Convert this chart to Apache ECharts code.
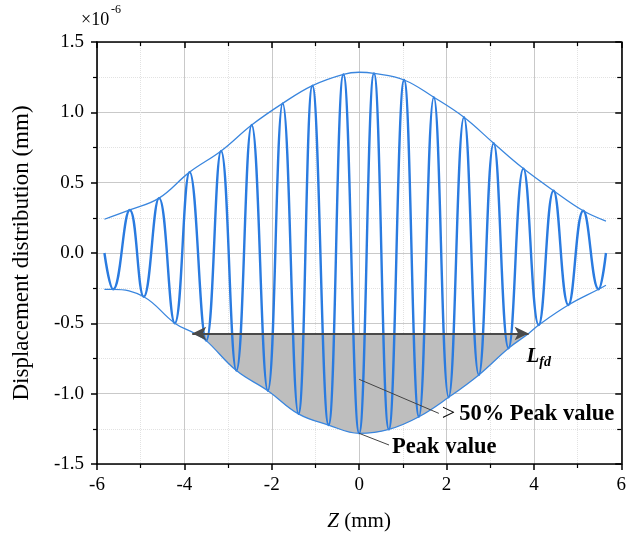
<!DOCTYPE html>
<html>
<head>
<meta charset="utf-8">
<script src="https://cdn.jsdelivr.net/npm/echarts@6/dist/echarts.min.js"></script>
<style>html,body{margin:0;padding:0;background:#fff}#c{width:629px;height:538px}</style>
</head>
<body>
<div id="c"></div>
<script>
// ---- data (Z in mm, displacement in 1e-6 mm) ----
const waveZ = [-5.83, -5.63, -5.25, -4.93, -4.58, -4.22, -3.88, -3.50, -3.16, -2.81, -2.46, -2.09, -1.75, -1.39, -1.07, -0.70, -0.36, 0.00, 0.34, 0.68, 1.03, 1.37, 1.71, 2.05, 2.40, 2.74, 3.08, 3.42, 3.76, 4.11, 4.45, 4.79, 5.13, 5.48, 5.65];
const waveD = [0.00, -0.258, 0.306, -0.311, 0.390, -0.499, 0.575, -0.623, 0.725, -0.836, 0.910, -0.979, 1.064, -1.144, 1.190, -1.223, 1.270, -1.282, 1.277, -1.254, 1.230, -1.164, 1.107, -1.026, 0.965, -0.867, 0.780, -0.677, 0.600, -0.512, 0.443, -0.370, 0.300, -0.258, 0.00];
const upperZ = [-5.83, -5.25, -4.58, -3.88, -3.16, -2.46, -1.75, -1.07, -0.36, 0.00, 0.34, 1.03, 1.71, 2.40, 3.08, 3.76, 4.45, 5.13, 5.65];
const upperD = [0.240, 0.306, 0.390, 0.575, 0.725, 0.910, 1.064, 1.190, 1.270, 1.285, 1.277, 1.230, 1.107, 0.965, 0.780, 0.600, 0.443, 0.300, 0.227];
const lowerZ = [-5.83, -5.63, -4.93, -4.22, -3.76, -3.50, -2.81, -2.09, -1.39, -0.70, 0.00, 0.68, 1.37, 2.05, 2.74, 3.42, 3.88, 4.11, 4.79, 5.48, 5.65];
const lowerD = [-0.258, -0.258, -0.311, -0.499, -0.572, -0.623, -0.836, -0.979, -1.144, -1.223, -1.282, -1.254, -1.164, -1.026, -0.867, -0.677, -0.572, -0.512, -0.370, -0.258, -0.229];
const halfPeakLevel = -0.572;         // level of the L_fd arrow
const lfdStartZ = -3.82, lfdEndZ = 3.88;
const xTicks = [-6, -4, -2, 0, 2, 4, 6];
const yTicks = [-1.5, -1.0, -0.5, 0.0, 0.5, 1.0, 1.5];

const zip = (a, b) => a.map((v, i) => [v, b[i]]);
const fillPts = zip(lowerZ, lowerD).filter(p => p[0] >= -3.76 && p[0] <= 3.88);

const FONT = "'Liberation Serif','Times New Roman',serif";
const BLUE = '#2a7be0';

const chart = echarts.init(document.getElementById('c'), null, {renderer: 'canvas'});

function xAxisBase(pos) {
  return {
    type: 'value', min: -6, max: 6, interval: 2, position: pos,
    axisLine: {show: true, onZero: false, lineStyle: {color: '#000', width: 1.6}},
    axisTick: {show: true, inside: pos === 'top', length: 6, lineStyle: {color: '#000', width: 1.5}},
    minorTick: {show: true, splitNumber: 2, length: 4, lineStyle: {color: '#000', width: 1.2}},
    splitLine: {show: pos === 'bottom', lineStyle: {color: '#c9c9c9', width: 1}},
    minorSplitLine: {show: pos === 'bottom', lineStyle: {color: '#e2e2e2', width: 1, type: 'dotted'}},
    axisLabel: {show: pos === 'bottom', color: '#000', fontFamily: FONT, fontSize: 19, margin: 12,
      formatter: v => xTicks.includes(v) ? String(v) : ''}
  };
}
function yAxisBase(pos) {
  return {
    type: 'value', min: -1.5, max: 1.5, interval: 0.5, position: pos,
    axisLine: {show: true, onZero: false, lineStyle: {color: '#000', width: 1.6}},
    axisTick: {show: true, inside: pos === 'right', length: 6, lineStyle: {color: '#000', width: 1.5}},
    minorTick: {show: true, splitNumber: 2, length: 4, lineStyle: {color: '#000', width: 1.2}},
    splitLine: {show: pos === 'left', lineStyle: {color: '#c9c9c9', width: 1}},
    minorSplitLine: {show: pos === 'left', lineStyle: {color: '#e2e2e2', width: 1, type: 'dotted'}},
    axisLabel: {show: pos === 'left', color: '#000', fontFamily: FONT, fontSize: 19, margin: 13,
      formatter: v => yTicks.some(t => Math.abs(t - v) < 1e-9) ? v.toFixed(1) : ''}
  };
}

const xb = xAxisBase('bottom');
xb.name = '{i|Z} (mm)';
xb.nameLocation = 'middle';
xb.nameGap = 47;
xb.nameTextStyle = {color: '#000', fontFamily: FONT, fontSize: 21,
  rich: {i: {fontStyle: 'italic', fontFamily: FONT, fontSize: 21, color: '#000'}}};
const yl = yAxisBase('left');
yl.name = 'Displacement distribution (mm)';
yl.nameLocation = 'middle';
yl.nameGap = 64;
yl.nameTextStyle = {color: '#000', fontFamily: FONT, fontSize: 23};

chart.setOption({
  animation: false,
  backgroundColor: '#fff',
  grid: {left: 97, right: 6, top: 42, bottom: 74, containLabel: false},
  xAxis: [xb, xAxisBase('top')],
  yAxis: [yl, yAxisBase('right')],
  series: [
    {
      name: 'fill', type: 'line', data: fillPts, smooth: 0.4, symbol: 'none',
      lineStyle: {width: 0}, areaStyle: {color: '#bebebe', opacity: 1, origin: halfPeakLevel}, z: 1
    },
    {
      name: 'wave', type: 'line', data: zip(waveZ, waveD), smooth: 0.45, symbol: 'none',
      lineStyle: {color: BLUE, width: 2.4}, z: 3
    },
    {
      name: 'upper', type: 'line', data: zip(upperZ, upperD), smooth: 0.4, symbol: 'none',
      lineStyle: {color: '#3a86de', width: 1.3}, z: 4
    },
    {
      name: 'lower', type: 'line', data: zip(lowerZ, lowerD), smooth: 0.4, symbol: 'none',
      lineStyle: {color: '#3a86de', width: 1.3}, z: 4,
      markLine: {
        silent: true, animation: false, z: 5,
        label: {show: false},
        data: [
          [{coord: [lfdStartZ, halfPeakLevel], symbol: 'arrow', symbolSize: [10, 14], lineStyle: {color: '#4a4a4a', width: 2.2, type: 'solid'}},
           {coord: [lfdEndZ, halfPeakLevel], symbol: 'arrow', symbolSize: [10, 14]}],
          [{coord: [0.0, -0.898], symbol: 'none', lineStyle: {color: '#444', width: 1, type: 'solid'}},
           {coord: [1.825, -1.14], symbol: 'none'}],
          [{coord: [0.0, -1.282], symbol: 'none', lineStyle: {color: '#444', width: 1, type: 'solid'}},
           {coord: [0.684, -1.365], symbol: 'none'}]
        ]
      }
    }
  ]
});

// annotation texts anchored in data coordinates
const notes = [
  {at: [1.89, -1.138], text: '{g|>}{b|50% Peak value}'},
  {at: [0.753, -1.379], text: '{b|Peak value}'},
  {at: [3.83, -0.74], text: '{L|L}{s|fd}'}
];
const rich = {
  g: {fontFamily: FONT, fontSize: 24, color: '#4d4d4d', padding: [0, 4, 0, 0]},
  b: {fontFamily: FONT, fontSize: 22.5, fontWeight: 'bold', color: '#4d4d4d'},
  L: {fontFamily: FONT, fontSize: 21, fontWeight: 'bold', fontStyle: 'italic', color: '#4d4d4d'},
  s: {fontFamily: FONT, fontSize: 14, fontWeight: 'bold', fontStyle: 'italic', color: '#4d4d4d', padding: [12, 0, 0, 0]}
};
const graphics = notes.map(n => {
  const p = chart.convertToPixel({gridIndex: 0}, n.at);
  return {type: 'text', left: p[0], top: p[1] - 11, z: 10,
    style: {text: n.text, rich: rich, textVerticalAlign: 'top'}};
});
graphics.push({type: 'text', left: 81, top: 11, z: 10,
  style: {text: '×10', fontFamily: FONT, fontSize: 18, fill: '#000'}});
graphics.push({type: 'text', left: 111, top: 4, z: 10,
  style: {text: '-6', fontFamily: FONT, fontSize: 12, fill: '#000'}});
chart.setOption({graphic: graphics});
</script>
</body>
</html>
